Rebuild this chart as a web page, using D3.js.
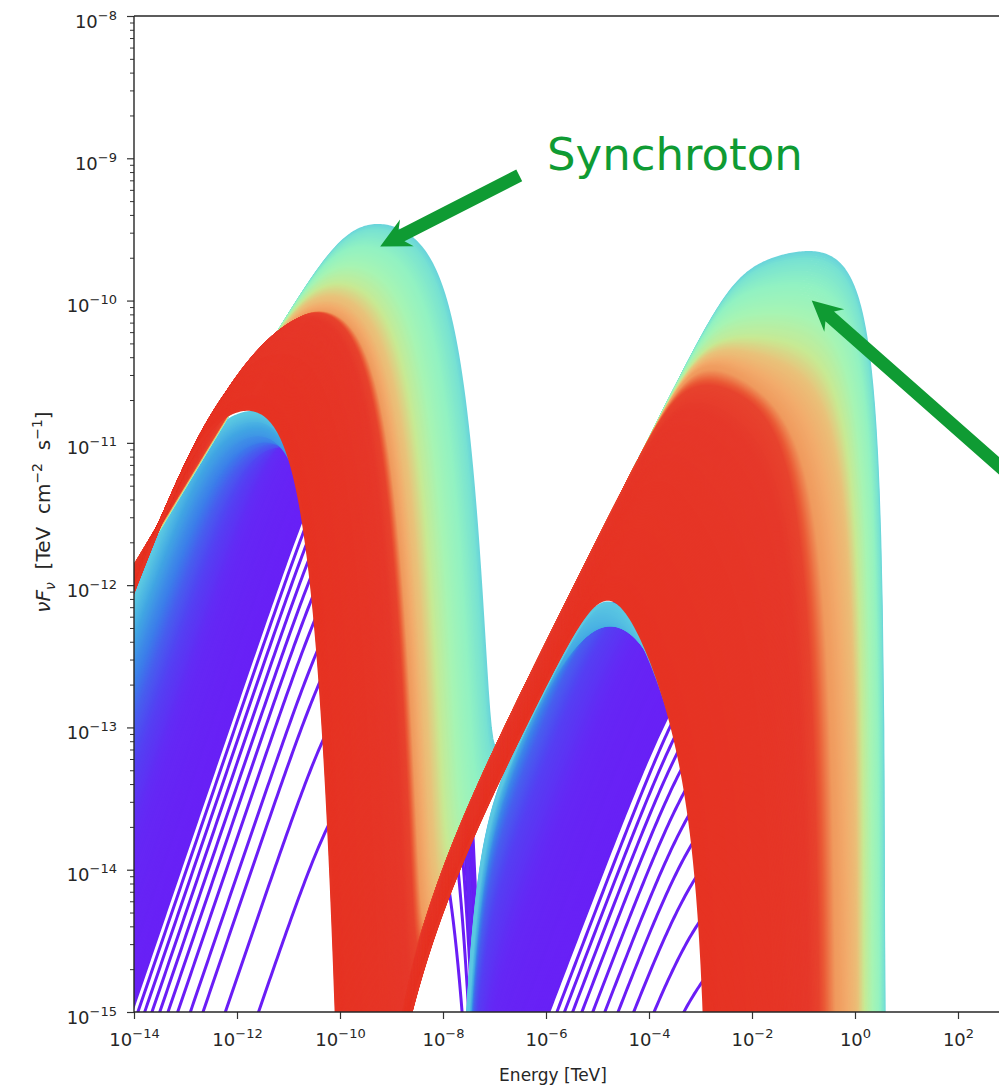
<!DOCTYPE html>
<html>
<head>
<meta charset="utf-8">
<title>SED evolution</title>
<script src="https://cdn.jsdelivr.net/npm/d3@7"></script>
<style>
  html, body { margin: 0; padding: 0; background: #fff; }
  svg { display: block; }
  text { font-family: "DejaVu Sans", sans-serif; fill: #262626; }
</style>
</head>
<body>
<svg id="sed" width="999" height="1087"></svg>
<script>
// Values. Energies and fluxes are log10(TeV) and
// log10(TeV cm^-2 s^-1); each snapshot is a synchrotron hump + an IC hump.

// late snapshots, outermost (cyan) first, innermost (red) last
var lateT          = [0.38, 0.50, 0.62, 0.75, 0.86, 0.93, 0.97, 1.00];
var lateSteps      = [20, 20, 20, 20, 20, 80, 80];
var lateSyncLevel  = [-11.90, -11.895, -11.89, -11.885, -11.88, -11.87, -11.95, -12.03];
var lateSyncSlope  = [0.60, 0.60, 0.60, 0.60, 0.60, 0.60, 0.78, 0.95];
var lateSyncSlope2 = [-0.05, -0.05, -0.05, -0.03, 0.00, 0.00, 0.10, 0.15];
var lateSyncBreak  = [-9.80, -10.15, -10.45, -10.70, -10.85, -10.85, -12.00, -12.70];
var lateSyncCut    = [-8.03, -8.50, -8.90, -9.25, -9.45, -9.62, -10.30, -11.10];
var lateIcLevel    = [-13.86, -13.86, -13.86, -13.86, -13.855, -13.85, -13.97, -14.12];
var lateIcSlope2   = [0.10, 0.05, 0.00, -0.10, -0.20, -0.10, -0.50, -0.80];
var lateIcBreak    = [-2.30, -2.66, -2.95, -3.05, -3.10, -3.35, -3.90, -4.75];
var lateIcEdge     = [0.57, 0.42, 0.20, 0.00, -0.30, -0.65, -1.50, -2.80];
var lateIcSharp    = [3, 3, 3, 3, 4, 5, 4, 3];

// early snapshots, lowest (purple) first, top (cyan) last
var earlyT         = [0.02, 0.03, 0.045, 0.07, 0.105, 0.16, 0.19, 0.22, 0.28, 0.36];
var earlySteps     = [12, 12, 12, 12, 12, 8, 8, 12, 20];
var earlySyncLevel = [-14.95, -14.60, -14.20, -13.70, -13.30, -12.90, -12.75, -12.60, -12.35, -12.08];
var earlySyncSlope = [1.06, 1.06, 1.06, 1.05, 1.04, 1.03, 1.025, 1.02, 1.01, 0.95];
var earlySyncBreak = [-10.1, -10.4, -10.8, -11.3, -11.8, -12.2, -12.32, -12.45, -12.6, -12.7];
var earlySyncCut   = [-8.40, -8.42, -8.45, -9.90, -10.20, -10.50, -10.62, -10.75, -10.90, -10.95];
var earlyIcLevel   = [-16.95, -16.50, -16.05, -15.60, -15.10, -14.74, -14.64, -14.56, -14.48, -14.15];
var earlyIcSlope   = [0.95, 0.95, 0.95, 0.95, 0.95, 0.95, 0.95, 0.95, 0.95, 0.72];
var earlyIcSlope2  = [0.1, 0.1, 0.1, 0.1, 0.1, 0.1, 0.1, 0.1, 0.1, -0.8];
var earlyIcBreak   = [-3.2, -3.4, -3.7, -4.2, -4.75, -5.2, -5.4, -5.55, -5.7, -4.75];
var earlyIcEdge    = [0.5, 0.5, 0.5, 0.5, 0.5, 0.5, 0.5, 0.5, 0.5, -2.7];

// the first, well separated curves (purple stripes)
var stripeSyncLevel = [-17.56, -16.88, -16.42, -16.16, -15.90, -15.70, -15.53, -15.37, -15.22, -15.08];
var stripeIcLevel   = [-19.30, -18.85, -18.50, -18.22, -17.98, -17.76, -17.56, -17.39, -17.24, -17.10];

// axes
var xTickExp = [-14, -12, -10, -8, -6, -4, -2, 0, 2];
var yTickExp = [-15, -14, -13, -12, -11, -10, -9, -8];

// colour map (rainbow)
var cmapT   = [0.00, 0.06, 0.12, 0.20, 0.28, 0.36, 0.40, 0.47, 0.55, 0.64, 0.72, 0.80, 0.87, 0.91, 0.94, 1.00];
var cmapHex = ["#6a1df6", "#6527f5", "#5047f2", "#3c7cea", "#41a6e3", "#5bc8e2", "#78e2d2", "#92f2c2",
               "#a6f4b4", "#c8e993", "#e9c27a", "#f2ac6c", "#f09a5e", "#ea5a36", "#e6382a", "#e63323"];

// annotations, in data coordinates
var notes  = [{ text: "Synchroton", at: [-5.98, -9.08] }];
var arrows = [{ from: [-6.52, -9.12], to: [-9.22, -9.62] },
              { from: [2.95, -11.21], to: [-0.84, -10.00] }];

var svg = d3.select("#sed");
var x = d3.scaleLog().domain([1e-14, 1e4]).range([134, 1061]);
var y = d3.scaleLog().domain([1e-15, 1e-8]).range([1012, 16]);
var color = d3.scaleLinear().domain(cmapT).range(cmapHex).clamp(true);

function softplus(z, s) {
  var u = s * z;
  return (u > 12 ? u : Math.log10(1 + Math.pow(10, u))) / s;
}

// one hump: broken power law with exp cutoff, hard edge and low-energy cut
function hump(X, h) {
  var v = h.level + h.a1 * (X - h.x0) - (h.a1 - h.a2) * softplus(X - h.xb, h.s);
  if (h.xc !== undefined) v -= Math.pow(10, Math.min(X - h.xc, 6)) / Math.LN10;
  if (h.xm !== undefined) {
    var r = 1 - Math.pow(10, X - h.xm);
    v += r > 1e-9 ? h.k * Math.log10(r) : -40;
  }
  if (h.xl !== undefined) v -= Math.pow(10, Math.min(-h.bl * (X - h.xl), 6)) / Math.LN10;
  return v;
}

function sed(X, c) {
  var a = hump(X, c.sync), b = hump(X, c.ic);
  var m = Math.max(a, b);
  return m + Math.log10(1 + Math.pow(10, Math.min(a, b) - m));
}

// blend two snapshots; keys in `snap` jump instead of sliding
function mix(p, q, f, snap) {
  var o = {};
  for (var key in p) {
    if (typeof p[key] === "object") o[key] = mix(p[key], q[key], f, snap);
    else if (snap.indexOf(key) >= 0) o[key] = f < 0.5 ? p[key] : q[key];
    else o[key] = p[key] + (q[key] - p[key]) * f;
  }
  return o;
}

// the curves packed between two read snapshots
function family(keys, steps, snap) {
  var out = [];
  for (var i = 0; i < keys.length - 1; i++)
    for (var j = 0; j < steps[i]; j++) out.push(mix(keys[i], keys[i + 1], j / steps[i], snap));
  out.push(keys[keys.length - 1]);
  return out;
}

var lateKeys = lateT.map(function(t, i) {
  return {
    t: t,
    sync: { level: lateSyncLevel[i], x0: -14, a1: lateSyncSlope[i], a2: lateSyncSlope2[i], s: 1.3,
            xb: lateSyncBreak[i], xc: lateSyncCut[i] },
    ic: { level: lateIcLevel[i], x0: -8, a1: 0.72, a2: lateIcSlope2[i], s: 1.5,
          xb: lateIcBreak[i], xm: lateIcEdge[i], k: lateIcSharp[i], xl: -8.62, bl: 0.68 }
  };
});

var last = earlyT.length - 1;
var earlyKeys = earlyT.map(function(t, i) {
  return {
    t: t,
    sync: { level: earlySyncLevel[i], x0: -14, a1: earlySyncSlope[i], a2: 0.15, s: 1.3,
            xb: earlySyncBreak[i], xc: earlySyncCut[i] },
    ic: { level: earlyIcLevel[i], x0: -8, a1: earlyIcSlope[i], a2: earlyIcSlope2[i], s: i === last ? 1.5 : 1,
          xb: earlyIcBreak[i], xm: earlyIcEdge[i], k: 3, xl: -7.3, bl: 2 }
  };
});

var stripes = stripeSyncLevel.map(function(sl, i) {
  return {
    t: 0,
    sync: { level: sl, x0: -14, a1: 1.06, a2: 0.15, s: 1.3, xb: -10.0, xc: -8.3 },
    ic: { level: stripeIcLevel[i], x0: -8, a1: 0.95, a2: 0.1, s: 1, xb: -3.0, xm: 0.5, k: 3, xl: -7.3, bl: 2 }
  };
});

var logE = d3.range(-14.1, 1.62, 0.03);
var line = d3.line()
  .x(function(p) { return x(Math.pow(10, p[0])); })
  .y(function(p) { return y(Math.pow(10, p[1])); });

function points(c) {
  return logE.map(function(X) { return [X, Math.max(sed(X, c), -15.8)]; });
}

svg.append("defs").append("clipPath").attr("id", "plot")
  .append("rect").attr("x", 134).attr("y", 16).attr("width", 927).attr("height", 996);

var curves = svg.append("g").attr("clip-path", "url(#plot)")
  .attr("fill", "none").attr("stroke-linejoin", "round");

function draw(list, width) {
  curves.append("g").selectAll("path")
    .data(list)
    .enter().append("path")
    .attr("d", function(c) { return line(points(c)); })
    .attr("stroke", function(c) { return color(c.t); })
    .attr("stroke-width", width);
}

draw(stripes, 3);
draw(family(earlyKeys, earlySteps, ["xc"]), 3);
draw(family(lateKeys, lateSteps, []), 3);

// axes
var gx = svg.append("g").attr("transform", "translate(0,1012)")
  .call(d3.axisBottom(x).tickValues(xTickExp.map(function(e) { return Math.pow(10, e); }))
        .tickSize(7).tickSizeOuter(0).tickFormat(function() { return ""; }));
gx.select(".domain").remove();
gx.selectAll(".tick line").attr("stroke", "#333").attr("stroke-width", 1.2);

function power(sel, e) {
  sel.append("tspan").attr("font-size", 18).text("10");
  sel.append("tspan").attr("font-size", 13).attr("dy", -8)
    .text(e < 0 ? "\u2212" + Math.abs(e) : String(e));
}

gx.selectAll(".tick").each(function(d) {
  var t = d3.select(this).append("text").attr("y", 34).attr("text-anchor", "middle");
  power(t, Math.round(Math.log10(d)));
});

var minorY = [];
yTickExp.slice(0, -1).forEach(function(e) {
  d3.range(2, 10).forEach(function(m) { minorY.push(m * Math.pow(10, e)); });
});

var gyMinor = svg.append("g").attr("transform", "translate(134,0)")
  .call(d3.axisLeft(y).tickValues(minorY).tickSize(4).tickSizeOuter(0).tickFormat(function() { return ""; }));
gyMinor.select(".domain").remove();
gyMinor.selectAll(".tick line").attr("stroke", "#333").attr("stroke-width", 1);

var gy = svg.append("g").attr("transform", "translate(134,0)")
  .call(d3.axisLeft(y).tickValues(yTickExp.map(function(e) { return Math.pow(10, e); }))
        .tickSize(7).tickSizeOuter(0).tickFormat(function() { return ""; }));
gy.select(".domain").remove();
gy.selectAll(".tick line").attr("stroke", "#333").attr("stroke-width", 1.2);
gy.selectAll(".tick").each(function(d) {
  var t = d3.select(this).append("text").attr("x", -17).attr("y", 11).attr("text-anchor", "end");
  power(t, Math.round(Math.log10(d)));
});

// frame (the right edge of the axes is outside the picture)
var frame = svg.append("g").attr("stroke", "#262626").attr("stroke-width", 1.4);
frame.append("line").attr("x1", 134).attr("x2", 134).attr("y1", 16).attr("y2", 1012);
frame.append("line").attr("x1", 134).attr("x2", 1061).attr("y1", 1012).attr("y2", 1012);
frame.append("line").attr("x1", 134).attr("x2", 1061).attr("y1", 16).attr("y2", 16);

// axis titles
svg.append("text").attr("x", 553).attr("y", 1081).attr("text-anchor", "middle")
  .attr("font-size", 17).text("Energy [TeV]");

var yl = svg.append("text").attr("transform", "translate(50,512) rotate(-90)")
  .attr("text-anchor", "middle").attr("font-size", 20);
yl.append("tspan").attr("font-style", "italic").text("\u03BDF");
yl.append("tspan").attr("font-style", "italic").attr("font-size", 14).attr("dy", 5).text("\u03BD");
yl.append("tspan").attr("dy", -5).attr("xml:space", "preserve").text("  [TeV  cm");
yl.append("tspan").attr("font-size", 14).attr("dy", -8).text("\u22122");
yl.append("tspan").attr("dy", 8).attr("xml:space", "preserve").text("  s");
yl.append("tspan").attr("font-size", 14).attr("dy", -8).text("\u22121");
yl.append("tspan").attr("dy", 8).text("]");

// annotations
var green = "#0f9b33";
notes.forEach(function(n) {
  svg.append("text").attr("x", x(Math.pow(10, n.at[0]))).attr("y", y(Math.pow(10, n.at[1])))
    .attr("font-family", "'Open Sans', 'Noto Sans', sans-serif").attr("font-size", 45)
    .style("fill", green).text(n.text);
});

function arrowShape(a) {
  var x0 = x(Math.pow(10, a.from[0])), y0 = y(Math.pow(10, a.from[1]));
  var x1 = x(Math.pow(10, a.to[0])), y1 = y(Math.pow(10, a.to[1]));
  var len = Math.hypot(x1 - x0, y1 - y0), ux = (x1 - x0) / len, uy = (y1 - y0) / len;
  var nx = -uy, ny = ux, w = 6.5, hw = 15, hl = 30;
  var bx = x1 - ux * hl, by = y1 - uy * hl, cx = x1 - ux * hl * 0.8, cy = y1 - uy * hl * 0.8;
  return [[x0 + nx * w, y0 + ny * w], [cx + nx * w, cy + ny * w], [bx + nx * hw, by + ny * hw],
          [x1, y1], [bx - nx * hw, by - ny * hw], [cx - nx * w, cy - ny * w], [x0 - nx * w, y0 - ny * w]];
}

svg.append("g").selectAll("polygon")
  .data(arrows)
  .enter().append("polygon")
  .attr("points", function(a) { return arrowShape(a).map(function(p) { return p.join(","); }).join(" "); })
  .attr("fill", green);
</script>
</body>
</html>
